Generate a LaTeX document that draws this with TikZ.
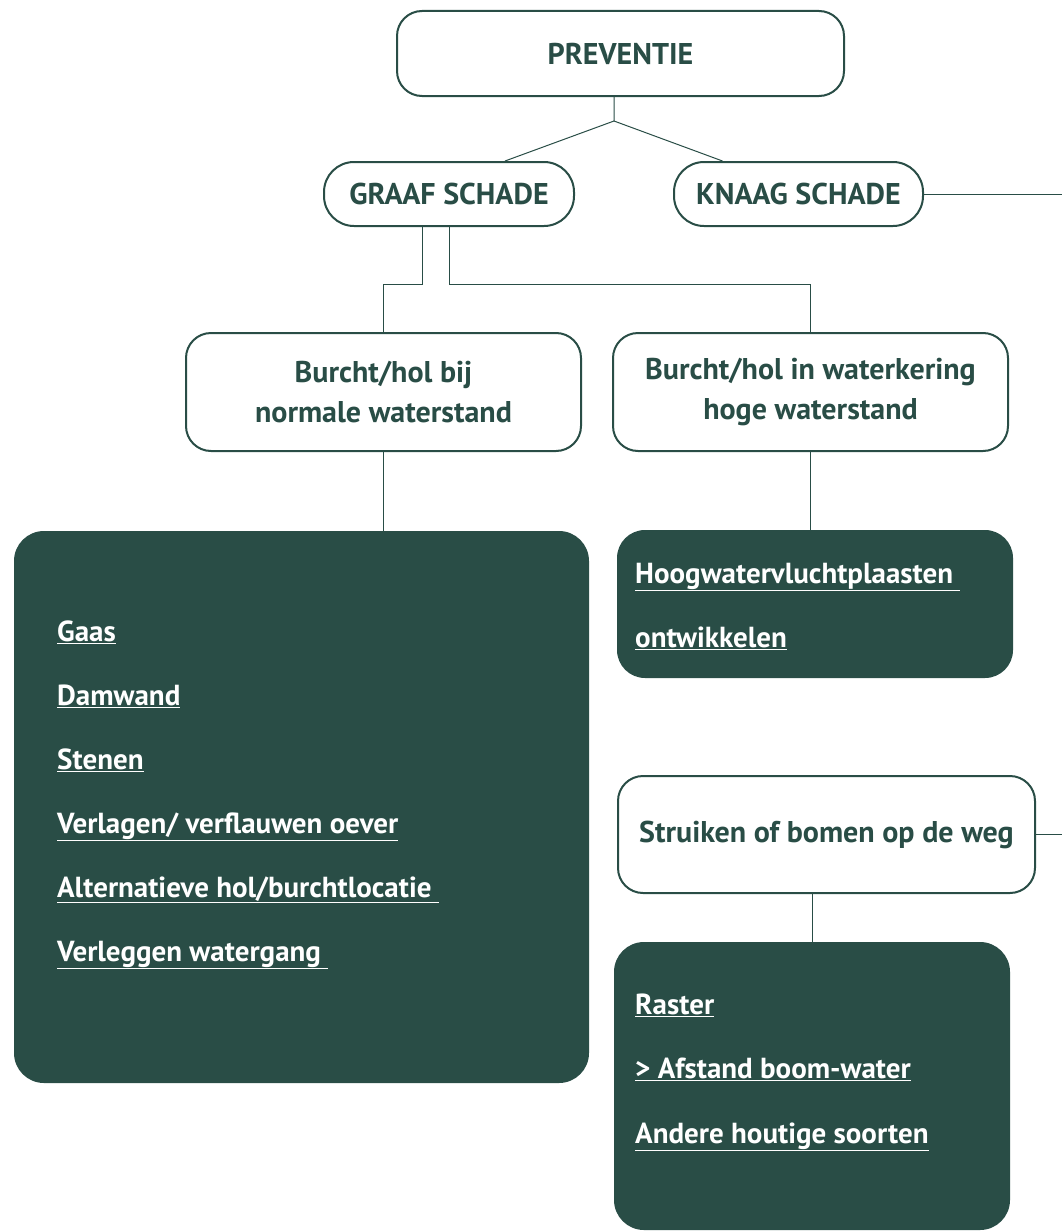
\documentclass[tikz,border=0pt]{standalone}
\usepackage{fontspec}
\setmainfont{PT Sans}
\usetikzlibrary{calc}
\definecolor{bosgroen}{HTML}{294D46}
\tikzset{
  kop/.style={draw=bosgroen, line width=2pt, fill=white, rounded corners=25pt,
    text=bosgroen, font=\fontsize{30}{40}\selectfont\bfseries, align=center,
    inner sep=0pt},
  maatregel/.style={fill=bosgroen, rounded corners=30pt, inner sep=0pt},
  punt/.style={anchor=base west, text=white, inner sep=0pt,
    font=\fontsize{29}{32}\selectfont\bfseries},
  lijn/.style={draw=bosgroen, line width=1pt}
}
\begin{document}
\begin{tikzpicture}[x=1pt, y=-1pt]
    \useasboundingbox (0,0) rectangle (1062,1231);
    % kopjes
    \node[kop, minimum width=447, minimum height=85] (prev) at (620.5,53.5) {PREVENTIE};
    \node[kop, rounded corners=30pt, minimum width=250, minimum height=64] (graaf) at (449,194) {GRAAF SCHADE};
    \node[kop, rounded corners=30pt, minimum width=249, minimum height=64] (knaag) at (798.5,194) {KNAAG SCHADE};
    \node[kop, minimum width=395, minimum height=118] (bhol1) at (383.5,392) {Burcht/hol bij\\normale waterstand};
    \node[kop, minimum width=395, minimum height=118] (bhol2) at (810.5,392) {Burcht/hol in waterkering\\hoge waterstand};
    \node[kop, minimum width=417, minimum height=117] (struik) at (826.5,834.5) {Struiken of bomen op de weg};
    % maatregelen
    \node[maatregel, minimum width=575, minimum height=552] (maat1) at (301.5,807) {};
    \node[maatregel, rounded corners=28pt, minimum width=396, minimum height=148] (maat2) at (815,604) {};
    \node[maatregel, minimum width=396, minimum height=288] (maat3) at (812,1086) {};
    \foreach \tekst [count=\i] in {Gaas, Damwand, Stenen, Verlagen/ verflauwen oever,
        Alternatieve hol/burchtlocatie\ , Verleggen watergang\ }
      \node[punt] (m1-\i) at (57,577+64*\i) {\underline{\tekst}};
    \node[punt] (m2-1) at (635,583) {\underline{Hoogwatervluchtplaasten\ }};
    \node[punt] (m2-2) at (635,647) {\underline{ontwikkelen}};
    \node[punt] (m3-1) at (635,1014) {\underline{Raster}};
    \node[punt] (m3-2) at (635,1078) {\underline{> Afstand boom-water}};
    \node[punt] (m3-3) at (635,1143) {\underline{Andere houtige soorten}};
    % verbindingen
    \coordinate (split) at (614,121);
    \coordinate (rand) at (1062,194);
    \draw[lijn] (split |- prev.south) -- (split) -- ($(graaf.north)+(56,0)$);
    \draw[lijn] (split) -- ($(knaag.north)+(-76,0)$);
    \draw[lijn] (knaag.east) -- (knaag.east -| rand);
    \draw[lijn] ($(graaf.south)+(-27,0)$) -- ++(0,57) -| (bhol1.north);
    \draw[lijn] (graaf.south) -- ++(0,57) -| (bhol2.north);
    \draw[lijn] (bhol1.south) -- (bhol1.south |- maat1.north);
    \draw[lijn] (bhol2.south) -- (bhol2.south |- maat2.north);
    \draw[lijn] (struik.east) -- (struik.east -| rand);
    \draw[lijn] (maat3.north |- struik.south) -- (maat3.north);
\end{tikzpicture}
\end{document}
